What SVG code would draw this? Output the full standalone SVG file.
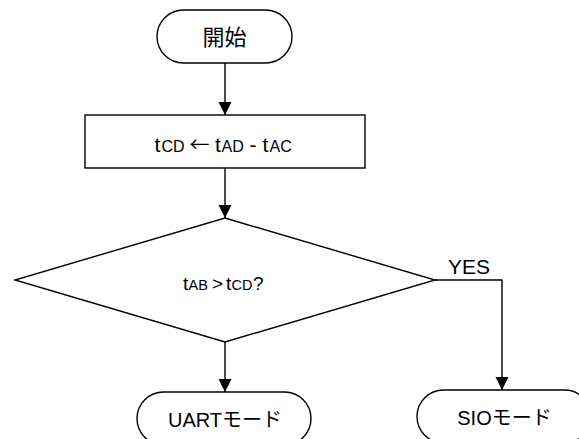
<svg xmlns="http://www.w3.org/2000/svg" width="579" height="439" viewBox="0 0 579 439">
<style>
.shape{fill:#fff;stroke:#000;stroke-width:1.4}
.conn{fill:none;stroke:#000;stroke-width:1.4}
.t{font-family:"Liberation Sans","Noto Sans CJK JP",Arial,sans-serif;fill:#000}
.j{font-family:"Liberation Sans","Noto Sans CJK JP",sans-serif;fill:#000}
.ar{font-family:"Noto Sans CJK JP",sans-serif}
</style>
<defs>
<marker id="arr" markerWidth="14" markerHeight="14" refX="13" refY="7" orient="auto" markerUnits="userSpaceOnUse">
<path d="M0,0.5 L13,7 L0,13.5 z" fill="#000"/>
</marker>
</defs>
<rect width="579" height="439" fill="#fff"/>
<g id="connectors">
<line class="conn" x1="225" y1="63" x2="225" y2="115" marker-end="url(#arr)"/>
<line class="conn" x1="225" y1="168" x2="225" y2="218" marker-end="url(#arr)"/>
<line class="conn" x1="225" y1="342" x2="225" y2="392" marker-end="url(#arr)"/>
<polyline class="conn" points="435,280 502,280 502,390" marker-end="url(#arr)"/>
<text class="t" x="448" y="274" font-size="21">YES</text>
</g>
<g id="start">
<rect class="shape" x="157" y="10" width="135" height="53" rx="26.5" ry="26.5"/>
<text class="j" x="224.5" y="45" font-size="22" text-anchor="middle">開始</text>
</g>
<g id="process">
<rect class="shape" x="85" y="115" width="280" height="53"/>
<text class="t" y="152" font-size="21"><tspan x="154.5">t</tspan><tspan x="161.5" font-size="16">CD</tspan><tspan class="ar" x="189.5" font-size="20">←</tspan><tspan x="215">t</tspan><tspan x="221.5" font-size="16">AD</tspan><tspan x="249.5">-</tspan><tspan x="262.5">t</tspan><tspan x="269.5" font-size="16">AC</tspan></text>
</g>
<g id="decision">
<polygon class="shape" points="225,218 435,280 225,342 15,280"/>
<text class="t" y="290" font-size="19" fill="#222"><tspan x="183">t</tspan><tspan x="188.5" font-size="14.5">AB</tspan><tspan x="212">&gt;</tspan><tspan x="226">t</tspan><tspan x="231.5" font-size="14.5">CD</tspan><tspan x="253">?</tspan></text>
</g>
<g id="uart">
<rect class="shape" x="137" y="392" width="174" height="53" rx="26.5" ry="26.5"/>
<text class="j" x="225" y="427" font-size="20" text-anchor="middle">UARTモード</text>
</g>
<g id="sio">
<rect class="shape" x="417" y="390" width="174" height="53" rx="26.5" ry="26.5"/>
<text class="j" x="504.5" y="425" font-size="20" text-anchor="middle">SIOモード</text>
</g>
</svg>
